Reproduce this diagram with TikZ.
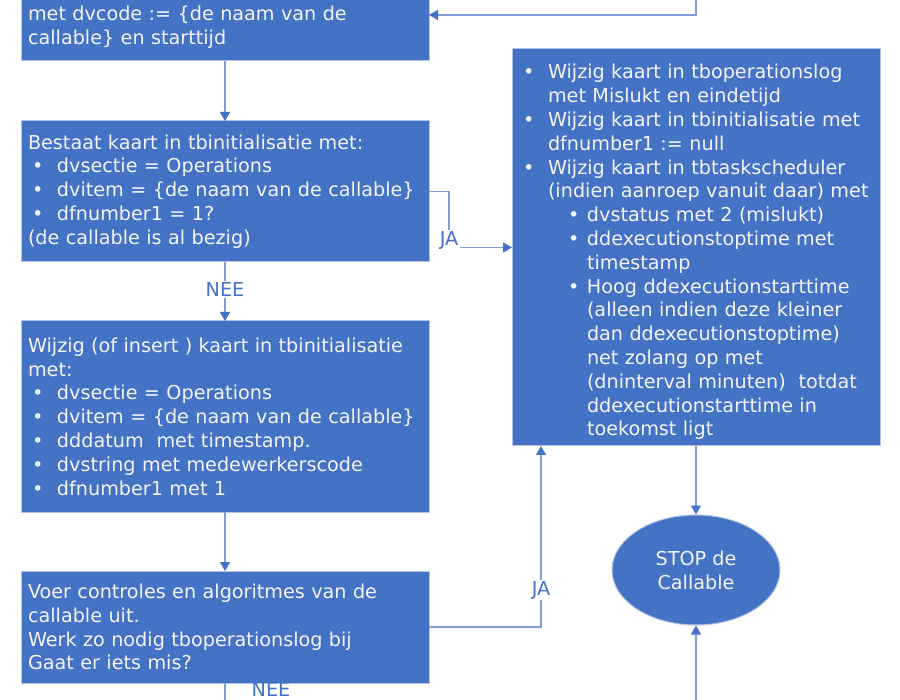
\documentclass[tikz,border=0pt]{standalone}
\usepackage{fontspec}
\setmainfont{DejaVu Sans}
\usetikzlibrary{arrows.meta,shapes.geometric}
\definecolor{boxblue}{HTML}{4472C4}
\definecolor{edgeblue}{HTML}{B4C4E4}
\definecolor{lineblue}{HTML}{7F9FDA}
\definecolor{txtwhite}{HTML}{F4F4F4}
\setlength\parindent{0pt}
\newcommand\bul[1]{\par\noindent\hangindent=29pt\hangafter=1\makebox[29pt][l]{\hspace{4pt}\textbullet}#1\par}
\newcommand\lvA[1]{\par\noindent\hangindent=25pt\hangafter=1\makebox[25pt][l]{\textbullet}#1\par}
\newcommand\lvB[1]{\par\noindent\hangindent=64pt\hangafter=1\hspace*{45pt}\makebox[19pt][l]{\textbullet}#1\par}
\tikzset{
  x=1pt, y=-1pt,
  flowbox/.style={draw=edgeblue, line width=1pt, fill=boxblue, text=txtwhite,
    rectangle, outer sep=0pt, inner xsep=7pt, inner ysep=0pt,
    minimum width=408pt, text width=394pt, align=left,
    font=\fontsize{19.2}{23.8}\selectfont},
  sidebox/.style={flowbox, minimum width=368pt, inner xsep=11pt, text width=346pt},
  stopnode/.style={ellipse, draw=edgeblue, line width=1pt, fill=boxblue, text=txtwhite,
    minimum width=168pt, minimum height=110pt, inner sep=0pt, align=center,
    font=\fontsize{19.2}{23.8}\selectfont},
  conn/.style={draw=lineblue, line width=1.2pt,
    -{Triangle[width=10pt,length=9pt,fill=boxblue,color=boxblue]}},
  plain/.style={draw=lineblue, line width=1.2pt},
  lbl/.style={fill=white, text=boxblue, inner sep=1.5pt,
    font=\fontsize{19.2}{22}\selectfont}
}
\begin{document}
\begin{tikzpicture}
\useasboundingbox (0,0) rectangle (900,700);
\clip (0,0) rectangle (900,700);
\fill[white] (0,0) rectangle (900,700);

\node[flowbox, minimum height=67pt] (b1) at (225,27.5)
  {met dvcode := \{de naam van de\newline callable\} en starttijd};

\node[flowbox, minimum height=141pt] (b2) at (225,191.5)
  {Bestaat kaart in tbinitialisatie met:
   \bul{dvsectie = Operations}
   \bul{dvitem = \{de naam van de callable\}}
   \bul{dfnumber1 = 1?}
   (de callable is al bezig)};

\node[flowbox, minimum height=191pt] (b3) at (225,416.5)
  {Wijzig (of insert ) kaart in tbinitialisatie\newline met:
   \bul{dvsectie = Operations}
   \bul{dvitem = \{de naam van de callable\}}
   \bul{dddatum~ met timestamp.}
   \bul{dvstring met medewerkerscode}
   \bul{dfnumber1 met 1}};

\node[flowbox, minimum height=112pt] (b4) at (225,627)
  {Voer controles en algoritmes van de\newline callable uit.\newline Werk zo nodig tboperationslog bij\newline Gaat er iets mis?};

\node[sidebox, minimum height=397pt] (rb) at (696,247.5)
  {\lvA{Wijzig kaart in tboperationslog\newline met Mislukt en eindetijd}
   \lvA{Wijzig kaart in tbinitialisatie met\newline dfnumber1 := null}
   \lvA{Wijzig kaart in tbtaskscheduler\newline (indien aanroep vanuit daar) met}
   \lvB{dvstatus met 2 (mislukt)}
   \lvB{ddexecutionstoptime met\newline timestamp}
   \lvB{Hoog ddexecutionstarttime\newline (alleen indien deze kleiner\newline dan ddexecutionstoptime)\newline net zolang op met\newline (dninterval minuten)~ totdat\newline ddexecutionstarttime in\newline toekomst ligt}};

\node[stopnode] (stop) at (696,570) {STOP de\\Callable};

\coordinate (intop) at (696,-5);
\coordinate (inbot) at (696,705);

% connectors
\draw[conn] (intop) |- ([yshift=12.5pt]b1.east);
\draw[conn] (b1) -- (b2);
\draw[conn] (b2) -- (b3);
\draw[conn] (b3) -- (b4);
\draw[conn] (b2.east) -- ++(20,0) |- (rb.west);
\draw[conn] (b4.east) -| ([xshift=29pt]rb.south west);
\draw[conn] (rb.south) -- (stop.north);
\draw[conn] (inbot) -- (stop.south);
\draw[plain] (b4.south) -- ++(0,30);

% labels
\node[lbl] (ja1) at (449,240) {JA};
\node[lbl] (nee1) at (225,290) {NEE};
\node[lbl] (ja2) at (541,590) {JA};
\node[lbl, anchor=north, inner sep=0pt, fill=none] (nee2) at (271,682) {NEE};
\end{tikzpicture}
\end{document}
